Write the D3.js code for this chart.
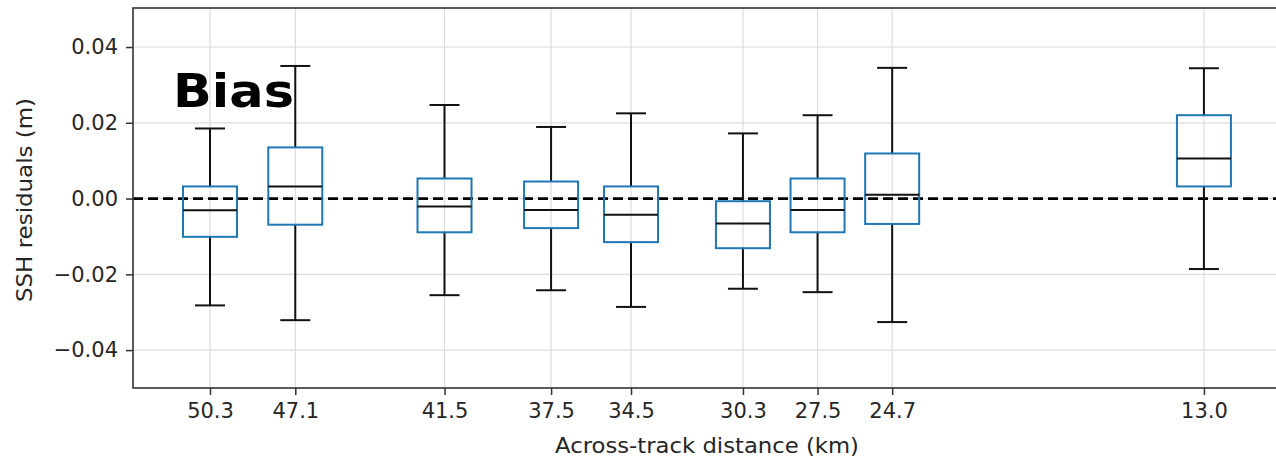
<!DOCTYPE html>
<html>
<head>
<meta charset="utf-8">
<script src="https://cdn.jsdelivr.net/npm/d3@7"></script>
<style>
  body { margin: 0; background: #fff; }
  text { font-family: "DejaVu Sans", sans-serif; fill: #262626; }
</style>
</head>
<body>
<svg id="main-svg" width="1276" height="461"></svg>
<script>
// across-track distance of each box (km)
var distances = [50.3, 47.1, 41.5, 37.5, 34.5, 30.3, 27.5, 24.7, 13.0];
var tickLabels = ["50.3", "47.1", "41.5", "37.5", "34.5", "30.3", "27.5", "24.7", "13.0"];
// box stats (m)
var whiskerLow  = [-0.0282, -0.0321, -0.0255, -0.0242, -0.0286, -0.0238, -0.0247, -0.0326, -0.0186];
var q1          = [-0.0101, -0.0069, -0.0089, -0.0078, -0.0115, -0.0131, -0.0089, -0.0067,  0.0032];
var medians     = [-0.0031,  0.0032, -0.0021, -0.0030, -0.0043, -0.0066, -0.0030,  0.0010,  0.0106];
var q3          = [ 0.0032,  0.0135,  0.0053,  0.0045,  0.0032, -0.0007,  0.0053,  0.0119,  0.0220];
var whiskerHigh = [ 0.0185,  0.0350,  0.0247,  0.0189,  0.0225,  0.0172,  0.0220,  0.0345,  0.0344];
var yTicks = [-0.04, -0.02, 0.00, 0.02, 0.04];

var svg = d3.select("#main-svg");
// plot area (right edge runs past the picture)
var pLeft = 133, pRight = 1290, pTop = 8, pBottom = 388;

var x = d3.scaleLinear().domain([53.19, 9.77]).range([pLeft, pRight]);
var y = d3.scaleLinear().domain([-0.05, 0.0503]).range([pBottom, pTop]);

var boxes = distances.map(function (d, i) {
    return {d: d, lo: whiskerLow[i], q1: q1[i], med: medians[i], q3: q3[i], hi: whiskerHigh[i]};
});

// grid
var grid = svg.append("g");
grid.selectAll("line.gx").data(distances).enter().append("line")
    .attr("x1", function (d) { return x(d); }).attr("x2", function (d) { return x(d); })
    .attr("y1", pTop).attr("y2", pBottom)
    .attr("stroke", "#dcdcdc").attr("stroke-width", 1.2);
grid.selectAll("line.gy").data(yTicks).enter().append("line")
    .attr("x1", pLeft).attr("x2", pRight)
    .attr("y1", function (d) { return y(d); }).attr("y2", function (d) { return y(d); })
    .attr("stroke", "#dcdcdc").attr("stroke-width", 1.2);

// zero line
svg.append("line")
    .attr("x1", pLeft).attr("x2", pRight)
    .attr("y1", y(0)).attr("y2", y(0))
    .attr("stroke", "black").attr("stroke-width", 2.8)
    .attr("stroke-dasharray", "10,5");

var boxW = 54, capW = 30;
var g = svg.append("g").selectAll("g").data(boxes).enter().append("g");

// whiskers
g.append("line")
    .attr("x1", function (b) { return x(b.d); }).attr("x2", function (b) { return x(b.d); })
    .attr("y1", function (b) { return y(b.hi); }).attr("y2", function (b) { return y(b.q3); })
    .attr("stroke", "#111").attr("stroke-width", 2);
g.append("line")
    .attr("x1", function (b) { return x(b.d); }).attr("x2", function (b) { return x(b.d); })
    .attr("y1", function (b) { return y(b.q1); }).attr("y2", function (b) { return y(b.lo); })
    .attr("stroke", "#111").attr("stroke-width", 2);
// caps
["hi", "lo"].forEach(function (k) {
    g.append("line")
        .attr("x1", function (b) { return x(b.d) - capW / 2; })
        .attr("x2", function (b) { return x(b.d) + capW / 2; })
        .attr("y1", function (b) { return y(b[k]); }).attr("y2", function (b) { return y(b[k]); })
        .attr("stroke", "#111").attr("stroke-width", 2);
});
// box
g.append("rect")
    .attr("x", function (b) { return x(b.d) - boxW / 2; })
    .attr("width", boxW)
    .attr("y", function (b) { return y(b.q3); })
    .attr("height", function (b) { return y(b.q1) - y(b.q3); })
    .attr("fill", "none").attr("stroke", "#1f77b4").attr("stroke-width", 2);
// median
g.append("line")
    .attr("x1", function (b) { return x(b.d) - boxW / 2; })
    .attr("x2", function (b) { return x(b.d) + boxW / 2; })
    .attr("y1", function (b) { return y(b.med); }).attr("y2", function (b) { return y(b.med); })
    .attr("stroke", "#111").attr("stroke-width", 2);

// axes
var xAxis = d3.axisBottom(x).tickValues(distances)
    .tickFormat(function (d, i) { return tickLabels[i]; })
    .tickSizeInner(7).tickSizeOuter(0).tickPadding(8);
var yAxis = d3.axisLeft(y).tickValues(yTicks)
    .tickFormat(function (d) { return d3.format(".2f")(d).replace("-", "\u2212"); })
    .tickSizeInner(7).tickSizeOuter(0).tickPadding(8);

var gx = svg.append("g").attr("transform", "translate(0," + pBottom + ")").call(xAxis);
var gy = svg.append("g").attr("transform", "translate(" + pLeft + ",0)").call(yAxis);
[gx, gy].forEach(function (a) {
    a.select(".domain").remove();
    a.selectAll(".tick line").attr("stroke", "#333").attr("stroke-width", 1.5);
    a.selectAll(".tick text").attr("font-size", "21px").attr("font-family", "DejaVu Sans").attr("fill", "#262626");
});

// frame
svg.append("rect")
    .attr("x", pLeft).attr("y", pTop)
    .attr("width", pRight - pLeft).attr("height", pBottom - pTop)
    .attr("fill", "none").attr("stroke", "#333").attr("stroke-width", 1.6);

// axis labels
svg.append("text")
    .attr("x", 707).attr("y", 453)
    .attr("text-anchor", "middle")
    .attr("font-size", "22px")
    .attr("textLength", 304).attr("lengthAdjust", "spacingAndGlyphs")
    .text("Across-track distance (km)");
svg.append("text")
    .attr("transform", "translate(32,200) rotate(-90)")
    .attr("text-anchor", "middle")
    .attr("font-size", "22px")
    .attr("textLength", 204).attr("lengthAdjust", "spacingAndGlyphs")
    .text("SSH residuals (m)");

// annotation
svg.append("text")
    .attr("x", 173).attr("y", 107)
    .attr("font-family", "Inter, Roboto, sans-serif")
    .attr("font-weight", "bold")
    .attr("font-size", "47px")
    .attr("textLength", 121).attr("lengthAdjust", "spacingAndGlyphs")
    .style("fill", "#000")
    .text("Bias");
</script>
</body>
</html>
